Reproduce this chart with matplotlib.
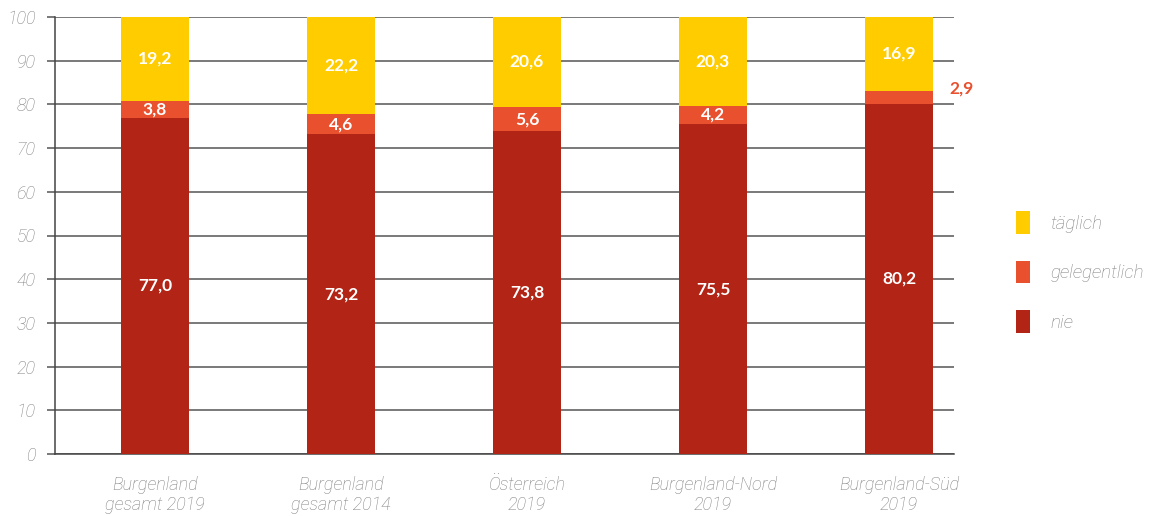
import matplotlib
matplotlib.use('Agg')
import matplotlib.pyplot as plt
import numpy as np

categories = ['Burgenland\ngesamt 2019', 'Burgenland\ngesamt 2014', 'Österreich\n2019',
              'Burgenland-Nord\n2019', 'Burgenland-Süd\n2019']
nie = [77.0, 73.2, 73.8, 75.5, 80.2]
gelegentlich = [3.8, 4.6, 5.6, 4.2, 2.9]
taeglich = [19.2, 22.2, 20.6, 20.3, 16.9]
series_names = ['nie', 'gelegentlich', 'täglich']

colors = {'nie': '#b22415', 'gelegentlich': '#e8502e', 'täglich': '#ffcc00'}
grey_text = '#808080'

plt.rcParams['font.family'] = ['Lato', 'DejaVu Sans']
light = {'family': ['Roboto', 'DejaVu Sans'], 'weight': 'light', 'style': 'italic'}

fig = plt.figure(figsize=(11.52, 5.16), dpi=100)
ax = fig.add_axes([55 / 1152, 62 / 516, 899 / 1152, 437 / 516])

x = np.arange(len(categories))
width = 0.366
bottom = np.zeros(len(categories))
handles = {}
for name, vals in zip(series_names, [nie, gelegentlich, taeglich]):
    vals = np.array(vals)
    bars = ax.bar(x, vals, width, bottom=bottom, color=colors[name], zorder=3, label=name)
    handles[name] = bars
    for i, (v, b) in enumerate(zip(vals, bottom)):
        txt = f'{v:.1f}'.replace('.', ',')
        if name == 'gelegentlich' and v < 3.5:
            # too thin for an inside label, put it next to the bar
            ax.annotate(txt, (x[i] + width / 2, b + v / 2), xytext=(12, 6.5),
                        textcoords='offset points', ha='left', va='center',
                        color=colors[name], fontsize=12.5, fontweight='bold')
        else:
            ax.text(x[i], b + v / 2, txt, ha='center', va='center', color='white',
                    fontsize=12.5, fontweight='bold', zorder=4)
    bottom += vals

ax.set_xlim((55 - 155) / 186, (954 - 155) / 186)
ax.set_ylim(0, 100)
ax.set_yticks(np.arange(0, 101, 10))
ax.grid(axis='y', color='#555555', linewidth=1.1, zorder=0)
ax.set_xticks(x)
ax.set_xticklabels(categories, fontsize=13, color=grey_text, linespacing=1.1, **light)
ax.tick_params(axis='x', length=0, pad=16)
ax.tick_params(axis='y', length=6, width=1.1, color='#555555', pad=8,
               labelsize=13, labelcolor=grey_text)
for label in ax.get_yticklabels():
    label.set_fontfamily(light['family'])
    label.set_fontweight('light')
    label.set_fontstyle('italic')

for side in ['top', 'right']:
    ax.spines[side].set_visible(False)
for side in ['left', 'bottom']:
    ax.spines[side].set_color('#444444')
    ax.spines[side].set_linewidth(1.1)

leg = fig.legend([handles[n] for n in reversed(series_names)], list(reversed(series_names)),
                 loc='center left', bbox_to_anchor=(1008 / 1152, 1 - 272 / 516),
                 frameon=False, prop=dict(size=13.5, **light), handlelength=0.78,
                 handleheight=1.45, labelspacing=1.45, handletextpad=1.1, borderaxespad=0)
for t in leg.get_texts():
    t.set_color(grey_text)

fig.savefig('out.png', dpi=100)
